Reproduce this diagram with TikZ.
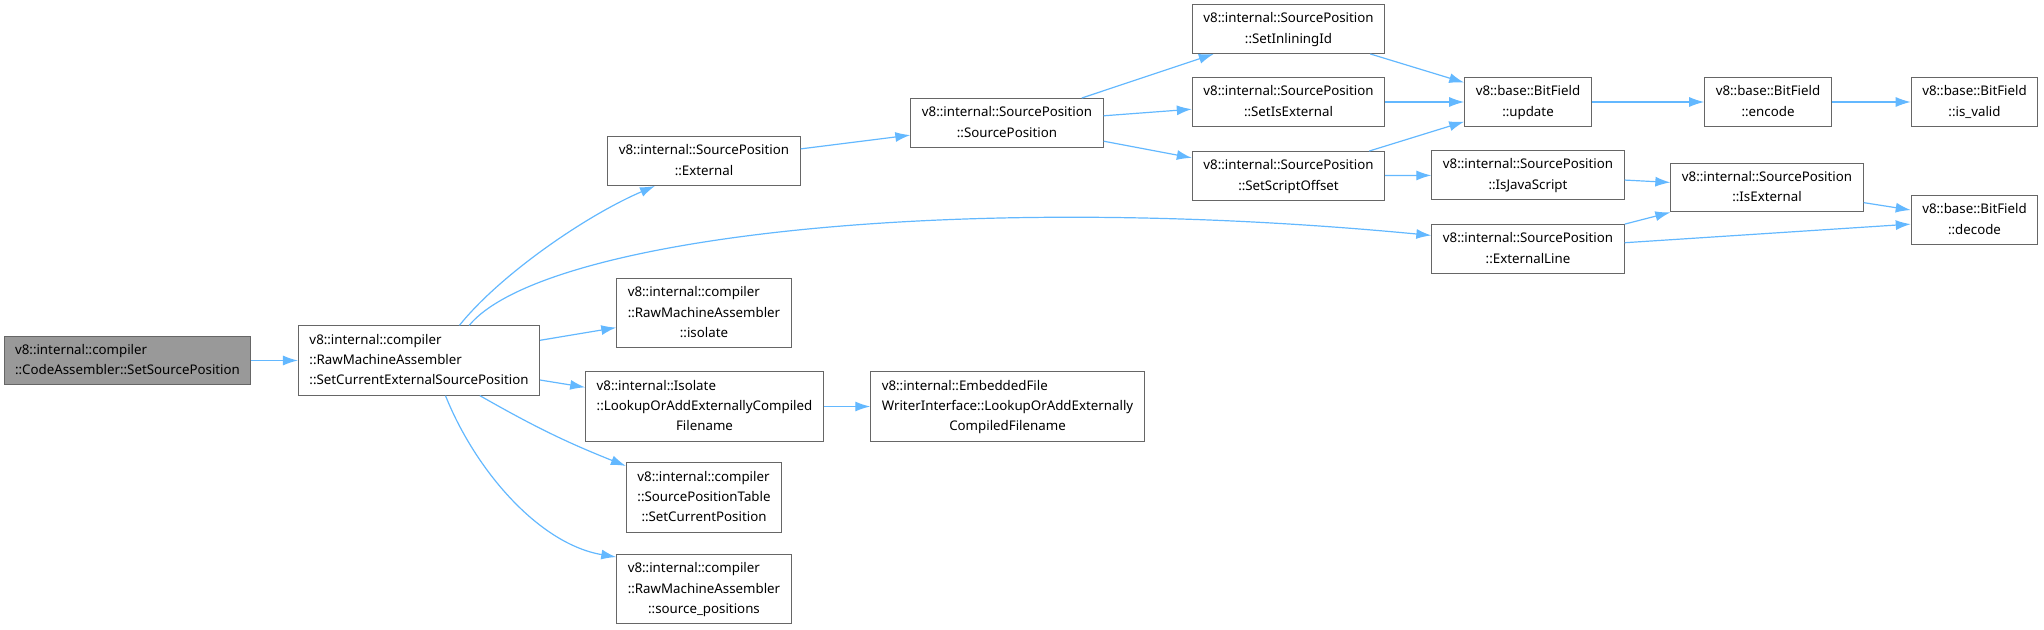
\documentclass[tikz,border=0pt]{standalone}
\usepackage{fontspec}
\setmainfont{Noto Sans}
\usepackage{xcolor}
\definecolor{edgeblue}{RGB}{99,184,255}
\definecolor{boxgray}{RGB}{102,102,102}
\definecolor{rootfill}{RGB}{153,153,153}
\usepackage{tikz}
\usetikzlibrary{arrows.meta,positioning}
\newcommand{\fnlbl}[1]{\begin{tabular}{@{}l@{}}#1\end{tabular}}
\newcommand{\lastln}[1]{\multicolumn{1}{@{}c@{}}{#1}}

\begin{document}
\begin{tikzpicture}[x=1pt,y=-1pt]
  \tikzstyle{fn}=[rectangle,draw=boxgray,fill=white,line width=1.1pt,inner xsep=11pt,inner ysep=4pt,font={\fontsize{13.3}{20.4}\selectfont}]
  \tikzstyle{fnroot}=[fn,fill=rootfill]
  \tikzstyle{call}=[-{Latex[length=15pt,width=10pt]},edgeblue,line width=1.2pt]
  \useasboundingbox (0,0) rectangle (2044,629);
  % callers on the left
  \node[fnroot] (root) at (127.5,360.5) {\fnlbl{v8::internal::compiler\\\lastln{::CodeAssembler::SetSourcePosition}}};
  \node[fn] (rma) at (419,360.5) {\fnlbl{v8::internal::compiler\\::RawMachineAssembler\\\lastln{::SetCurrentExternalSourcePosition}}};
  % third column
  \node[fn] (ext) at (704,161) {\fnlbl{v8::internal::SourcePosition\\\lastln{::External}}};
  \node[fn] (isolate) at (704,313) {\fnlbl{v8::internal::compiler\\::RawMachineAssembler\\\lastln{::isolate}}};
  \node[fn] (lookup) at (704.5,406.5) {\fnlbl{v8::internal::Isolate\\::LookupOrAddExternallyCompiled\\\lastln{Filename}}};
  \node[fn] (spt) at (704,497.5) {\fnlbl{v8::internal::compiler\\::SourcePositionTable\\\lastln{::SetCurrentPosition}}};
  \node[fn] (srcpos) at (704,589) {\fnlbl{v8::internal::compiler\\::RawMachineAssembler\\\lastln{::source\_positions}}};
  \node[fn] (sp) at (1007,123) {\fnlbl{v8::internal::SourcePosition\\\lastln{::SourcePosition}}};
  \node[fn] (embedded) at (1007.5,406.5) {\fnlbl{v8::internal::EmbeddedFile\\WriterInterface::LookupOrAddExternally\\\lastln{CompiledFilename}}};
  % setters
  \node[fn] (setinl) at (1288.5,29) {\fnlbl{v8::internal::SourcePosition\\\lastln{::SetInliningId}}};
  \node[fn] (setisext) at (1288.5,102) {\fnlbl{v8::internal::SourcePosition\\\lastln{::SetIsExternal}}};
  \node[fn] (setso) at (1288.5,176) {\fnlbl{v8::internal::SourcePosition\\\lastln{::SetScriptOffset}}};
  % bit fields and queries
  \node[fn] (update) at (1528,102) {\fnlbl{v8::base::BitField\\\lastln{::update}}};
  \node[fn] (isjs) at (1528,175) {\fnlbl{v8::internal::SourcePosition\\\lastln{::IsJavaScript}}};
  \node[fn] (extline) at (1528,249) {\fnlbl{v8::internal::SourcePosition\\\lastln{::ExternalLine}}};
  \node[fn] (encode) at (1768,102) {\fnlbl{v8::base::BitField\\\lastln{::encode}}};
  \node[fn] (isext) at (1767,187.5) {\fnlbl{v8::internal::SourcePosition\\\lastln{::IsExternal}}};
  \node[fn] (isvalid) at (1974.5,102) {\fnlbl{v8::base::BitField\\\lastln{::is\_valid}}};
  \node[fn] (decode) at (1974.5,220) {\fnlbl{v8::base::BitField\\\lastln{::decode}}};

  \draw[call] (root) -- (rma);
  \draw[call] (rma.41) .. controls +(40,-50) and +(-70,30) .. (ext.207);
  \draw[call] (rma.35) .. controls +(72,-87) and +(-482,-46) .. (extline.172);
  \draw[call] (rma) -- (isolate);
  \draw[call] (rma) -- (lookup);
  \draw[call] (rma.-30) to[bend right=4] (spt.158);
  \draw[call] (rma.-53) .. controls +(30,75) and +(-77,-13) .. (srcpos.160);
  \draw[call] (ext) -- (sp);
  \draw[call] (lookup) -- (embedded);
  \draw[call] (sp) -- (setinl);
  \draw[call] (sp) -- (setisext);
  \draw[call] (sp) -- (setso);
  \draw[call] (setinl) -- (update);
  \draw[call] (setisext) -- (update);
  \draw[call] (setso) -- (update);
  \draw[call] (setso) -- (isjs);
  \draw[call] (update) -- (encode);
  \draw[call] (encode) -- (isvalid);
  \draw[call] (isjs) -- (isext);
  \draw[call] (isext) -- (decode);
  \draw[call] (extline) -- (isext);
  \draw[call] (extline) -- (decode);
\end{tikzpicture}
\end{document}
